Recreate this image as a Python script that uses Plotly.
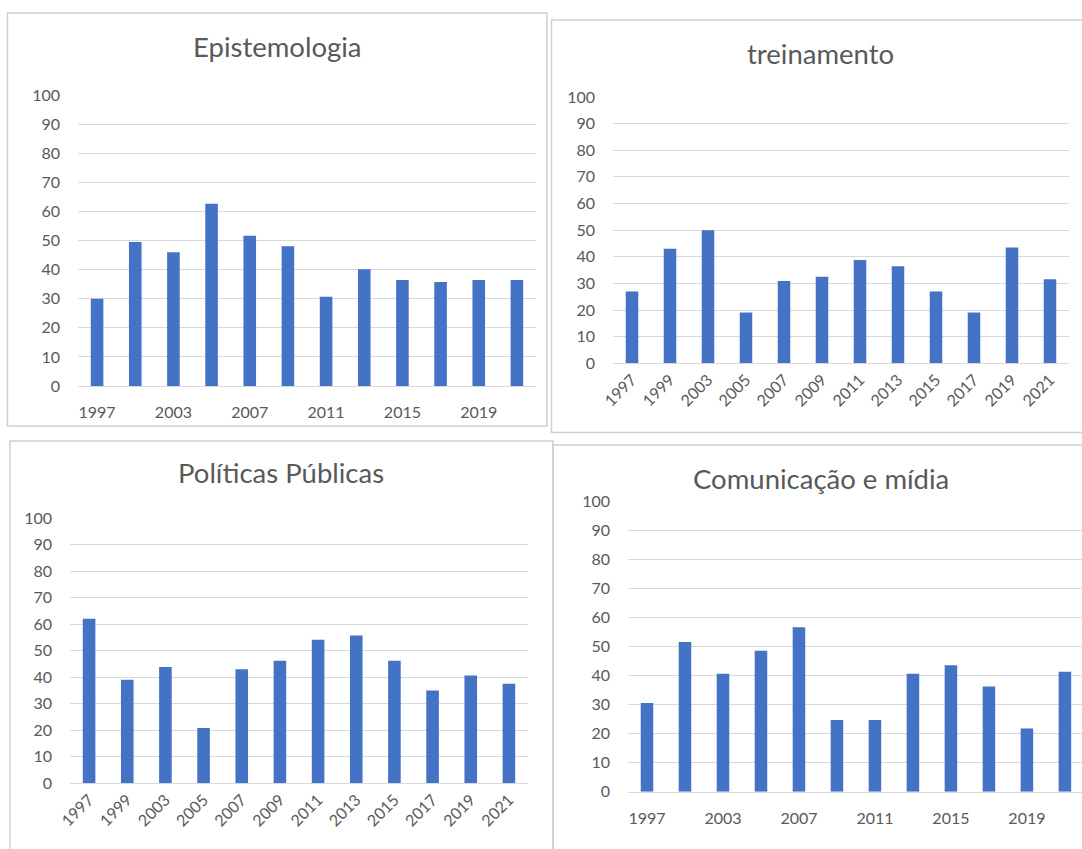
import plotly.graph_objects as go

W, H = 1082, 849

years = ["1997", "1999", "2003", "2005", "2007", "2009", "2011", "2013", "2015", "2017", "2019", "2021"]
y_ticks = [0, 10, 20, 30, 40, 50, 60, 70, 80, 90, 100]

titles = ["Epistemologia", "treinamento", "Políticas Públicas", "Comunicação e mídia"]

epistemologia = [30, 49.5, 46, 62.6, 51.6, 48, 30.7, 40.1, 36.4, 35.7, 36.4, 36.4]
treinamento = [27, 43, 50, 19.1, 30.9, 32.5, 38.8, 36.4, 27, 19.1, 43.5, 31.6]
politicas = [62, 39, 43.8, 20.8, 43, 46.2, 54.1, 55.7, 46.2, 35, 40.6, 37.5]
comunicacao = [30.6, 51.6, 40.7, 48.6, 56.7, 24.7, 24.7, 40.7, 43.6, 36.3, 21.8, 41.4]

series = [epistemologia, treinamento, politicas, comunicacao]

panels = [
    dict(x0=78, x1=536, yt=95, yb=386, rmax=11.5, rot=False),
    dict(x0=613, x1=1069, yt=97, yb=363.3, rmax=11.5, rot=True),
    dict(x0=70, x1=528, yt=518, yb=783.3, rmax=11.5, rot=True),
    dict(x0=628, x1=1082, yt=501.7, yb=791.7, rmax=11.45, rot=False),
]
title_pos = [(277, 46), (821, 53), (281, 473), (821, 478)]
boxes = [(7.5, 13, 547, 426), (551.5, 20, 1095, 432.5), (10, 441, 553, 860), (553, 445, 1095, 860)]

BAR = "#4472C4"
TXT = "#595959"
GRID = "#d9d9d9"
FONT = "Lato"

fig = go.Figure()
layout = dict(
    width=W, height=H, margin=dict(l=0, r=0, t=0, b=0, pad=0, autoexpand=False),
    paper_bgcolor="white", plot_bgcolor="white",
    showlegend=False, bargap=0.67,
    font=dict(family=FONT, color=TXT, size=16),
)
annotations = []
shapes = []
for i, (p, vals) in enumerate(zip(panels, series)):
    n = "" if i == 0 else str(i + 1)
    fig.add_trace(go.Bar(x=years, y=vals, marker=dict(color=BAR, line=dict(width=0)),
                         xaxis="x" + n, yaxis="y" + n))
    xa = dict(
        type="category", domain=[p["x0"] / W, min(p["x1"] / W, 1)],
        range=[-0.5, p["rmax"]], anchor="y" + n,
        showgrid=False, zeroline=False, showline=True, linecolor=GRID, linewidth=1,
        ticks="", tickfont=dict(family=FONT, color=TXT, size=16),
        fixedrange=True, automargin=False,
    )
    if p["rot"]:
        xa.update(tickangle=-45, tickvals=years, ticklabelstandoff=0)
    else:
        xa.update(tickangle=0, tickvals=years[::2], ticklabelstandoff=12)
    ya = dict(
        domain=[1 - p["yb"] / H, 1 - p["yt"] / H], range=[0, 100], anchor="x" + n,
        tickvals=y_ticks, showgrid=True, gridcolor=GRID, gridwidth=1,
        zeroline=False, showline=False, ticks="",
        tickfont=dict(family=FONT, color=TXT, size=16), ticklabelstandoff=17,
        fixedrange=True, automargin=False,
    )
    layout["xaxis" + n] = xa
    layout["yaxis" + n] = ya
    tx, ty = title_pos[i]
    annotations.append(dict(text=titles[i], x=tx / W, y=1 - ty / H, xref="paper", yref="paper",
                            xanchor="center", yanchor="middle", showarrow=False,
                            font=dict(family=FONT, color=TXT, size=27.5)))
    bx0, by0, bx1, by1 = boxes[i]
    shapes.append(dict(type="rect", xref="paper", yref="paper",
                       x0=bx0 / W, x1=bx1 / W, y0=1 - by1 / H, y1=1 - by0 / H,
                       line=dict(color="#cfcfcf", width=1.5), fillcolor="rgba(0,0,0,0)", layer="below"))

layout["annotations"] = annotations
layout["shapes"] = shapes
fig.update_layout(**layout)
fig.write_html(
    "out.html",
    config=dict(displayModeBar=False),
    post_script="document.body.style.margin='0';document.body.style.overflow='hidden';",
)
